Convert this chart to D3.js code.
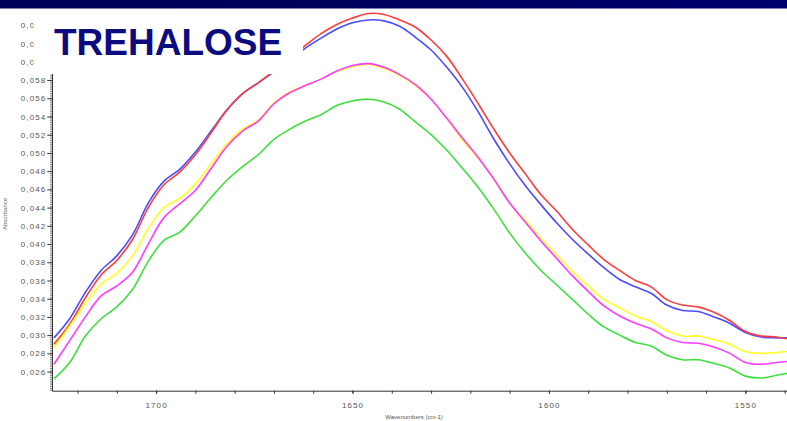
<!DOCTYPE html>
<html><head><meta charset="utf-8">
<script src="https://cdn.jsdelivr.net/npm/d3@7"></script>
<style>
html,body{margin:0;padding:0;background:#fff;}
svg{display:block;font-family:"Liberation Sans",Arial,sans-serif;}
</style></head>
<body><svg id="c" width="787" height="421"></svg>
<script>
const title = "TREHALOSE";
const xAxisTitle = "Wavenumbers (cm-1)";
const yAxisTitle = "Absorbance";
const wavenumbers = [1726,1722,1718,1714,1710,1706,1702,1698,1694,1690,1686,1682,1678,1674,1670,1666,1662,1658,1654,1650,1646,1642,1638,1634,1630,1626,1622,1618,1614,1610,1606,1602,1598,1594,1590,1586,1582,1578,1574,1570,1566,1562,1558,1554,1550,1546,1542,1539.4];
const blueSeries = [0.0297,0.0318,0.0347,0.0371,0.0387,0.0410,0.0445,0.0469,0.0482,0.0501,0.0524,0.0547,0.0565,0.0577,0.0589,0.0602,0.0615,0.0626,0.0636,0.0643,0.0646,0.0645,0.0639,0.0627,0.0613,0.0594,0.0572,0.0545,0.0515,0.0488,0.0464,0.0443,0.0423,0.0405,0.0389,0.0374,0.0361,0.0353,0.0346,0.0333,0.0327,0.0326,0.0320,0.0313,0.0303,0.0298,0.0297,0.0297];
const redSeries = [0.0290,0.0312,0.0341,0.0366,0.0382,0.0405,0.0440,0.0465,0.0479,0.0498,0.0522,0.0547,0.0565,0.0577,0.0590,0.0605,0.0618,0.0631,0.0641,0.0648,0.0653,0.0652,0.0646,0.0638,0.0624,0.0606,0.0581,0.0554,0.0526,0.0500,0.0477,0.0454,0.0436,0.0416,0.0399,0.0383,0.0371,0.0360,0.0353,0.0339,0.0333,0.0331,0.0325,0.0316,0.0304,0.0299,0.0298,0.0296];
const yellowSeries = [0.0286,0.0310,0.0335,0.0356,0.0368,0.0387,0.0417,0.0440,0.0450,0.0466,0.0488,0.0510,0.0526,0.0536,0.0555,0.0567,0.0574,0.0581,0.0589,0.0595,0.0597,0.0593,0.0585,0.0574,0.0559,0.0538,0.0514,0.0494,0.0472,0.0445,0.0426,0.0406,0.0388,0.0370,0.0354,0.0339,0.0330,0.0321,0.0315,0.0305,0.0299,0.0299,0.0295,0.0290,0.0282,0.0280,0.0281,0.0282];
const magentaSeries = [0.0268,0.0294,0.0320,0.0343,0.0354,0.0369,0.0400,0.0429,0.0444,0.0459,0.0483,0.0507,0.0524,0.0535,0.0554,0.0566,0.0574,0.0581,0.0590,0.0596,0.0598,0.0594,0.0586,0.0575,0.0559,0.0538,0.0516,0.0495,0.0471,0.0445,0.0424,0.0403,0.0384,0.0365,0.0348,0.0332,0.0321,0.0313,0.0307,0.0297,0.0292,0.0291,0.0287,0.0280,0.0270,0.0268,0.0270,0.0271];
const greenSeries = [0.0252,0.0270,0.0299,0.0318,0.0331,0.0350,0.0381,0.0404,0.0413,0.0431,0.0451,0.0470,0.0485,0.0498,0.0515,0.0526,0.0535,0.0542,0.0552,0.0557,0.0559,0.0556,0.0548,0.0534,0.0520,0.0503,0.0483,0.0462,0.0438,0.0412,0.0390,0.0371,0.0355,0.0339,0.0323,0.0309,0.0300,0.0292,0.0288,0.0278,0.0273,0.0273,0.0269,0.0264,0.0255,0.0253,0.0256,0.0258];
const yTickValues = [0.026,0.028,0.030,0.032,0.034,0.036,0.038,0.040,0.042,0.044,0.046,0.048,0.050,0.052,0.054,0.056,0.058,0.060,0.062,0.064];
const xLabelValues = [1700,1650,1600,1550];
const xMinorValues = [1720,1710,1700,1690,1680,1670,1660,1650,1640,1630,1620,1610,1600,1590,1580,1570,1560,1550,1540];

const series = [
  {name:"blue", values: blueSeries, color:"#4b4bff"},
  {name:"red", values: redSeries, color:"#ff3b3b"},
  {name:"yellow", values: yellowSeries, color:"#ffff22"},
  {name:"magenta", values: magentaSeries, color:"#ff3cff"},
  {name:"green", values: greenSeries, color:"#3ee03e"}
];

const svg = d3.select("#c");
const pL = 52, pR = 787, pT = 9, pB = 390.7;
const x = d3.scaleLinear().domain([1726.5, 1539.4]).range([pL, pR]);
const y = d3.scaleLinear().domain([0.0239, 0.0658]).range([pB, pT]);

const defs = svg.append("defs");
defs.append("clipPath").attr("id","plot")
  .append("rect").attr("x",pL).attr("y",0).attr("width",pR-pL).attr("height",pB);

// lines
const line = d3.line().x((d,i)=>x(wavenumbers[i])).y(d=>y(d)).curve(d3.curveCatmullRom);
const gl = svg.append("g").attr("clip-path","url(#plot)");
series.forEach(s=>{
  gl.append("path").attr("d", line(s.values)).attr("fill","none")
    .attr("stroke", s.color).attr("stroke-width",1.6).attr("stroke-linejoin","round");
});

// y axis
const fmt = v => d3.format(".3f")(v).replace(".", ",");
const yMinor = d3.range(0.0240, 0.06581, 0.0002);
svg.append("g").attr("transform",`translate(${pL},0)`)
  .call(d3.axisLeft(y).tickValues(yMinor).tickSize(2).tickFormat(""))
  .call(g=>{g.select(".domain").remove(); g.selectAll("line").attr("stroke","#555").attr("stroke-width",0.7);});
const ya = svg.append("g").attr("transform",`translate(${pL},0)`)
  .call(d3.axisLeft(y).tickValues(yTickValues).tickSize(4.7).tickPadding(1).tickFormat(fmt).tickSizeOuter(0));
ya.select(".domain").attr("stroke","#333");
ya.selectAll("line").attr("stroke","#333");
ya.selectAll("text").attr("font-size","8px").attr("letter-spacing","1.1px").attr("fill","#555").attr("font-family","Liberation Sans, Arial");

// x axis
const xm = svg.append("g").attr("transform",`translate(0,${pB})`)
  .call(d3.axisBottom(x).tickValues(xMinorValues).tickSize(3).tickFormat("").tickSizeOuter(0));
xm.select(".domain").attr("stroke","#333");
xm.selectAll("line").attr("stroke","#333");
const xa = svg.append("g").attr("transform",`translate(0,${pB})`)
  .call(d3.axisBottom(x).tickValues(xLabelValues).tickSize(3).tickPadding(9).tickFormat(d3.format("d")).tickSizeOuter(0));
xa.select(".domain").remove();
xa.selectAll("line").attr("stroke","#333");
xa.selectAll("text").attr("font-size","8px").attr("letter-spacing","1.1px").attr("fill","#555").attr("font-family","Liberation Sans, Arial");

svg.append("text").attr("x",414).attr("y",419).attr("text-anchor","middle")
  .attr("font-size","6px").attr("fill","#555").text(xAxisTitle);
svg.append("text").attr("transform","translate(7,214) rotate(-90)").attr("text-anchor","middle")
  .attr("font-size","6px").attr("fill","#666").text(yAxisTitle);

// title box covering part of the chart
svg.append("rect").attr("x",33.5).attr("y",8).attr("width",269.5).attr("height",66).attr("fill","#fff");
svg.append("text").attr("x",54).attr("y",55).attr("font-size","37px").attr("font-weight","bold")
  .attr("fill","#0c0c80").text(title);

// top banner
const grad = defs.append("linearGradient").attr("id","ban").attr("x1","0").attr("x2","1");
grad.append("stop").attr("offset","0").attr("stop-color","#000058");
grad.append("stop").attr("offset","0.5").attr("stop-color","#00005e");
grad.append("stop").attr("offset","1").attr("stop-color","#00006e");
svg.append("rect").attr("x",0).attr("y",0).attr("width",787).attr("height",8.5).attr("fill","url(#ban)");
</script>
</body></html>
